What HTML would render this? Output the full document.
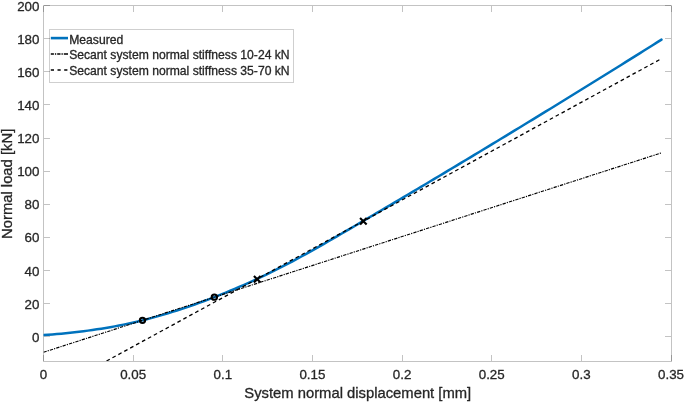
<!DOCTYPE html>
<html><head><meta charset="utf-8"><title>chart</title>
<style>
html,body{margin:0;padding:0;background:#fff;}
body{width:685px;height:403px;overflow:hidden;}
svg{display:block;will-change:transform;}
text{font-family:"Liberation Sans",sans-serif;fill:#262626;stroke:#262626;stroke-width:0.3px;}
.t{font-size:13.33px;}
.l{font-size:14.8px;}
.g{font-size:12.15px;}
</style></head><body>
<svg width="685" height="403" viewBox="0 0 685 403">
<rect x="0" y="0" width="685" height="403" fill="#ffffff"/>
<g stroke="#262626" stroke-opacity="0.28" stroke-width="1" fill="none" shape-rendering="crispEdges">
<rect x="43.5" y="5.5" width="627.5" height="355.5"/>
<line x1="43.50" y1="360.5" x2="43.50" y2="355.0"/>
<line x1="43.50" y1="6.0" x2="43.50" y2="11.5"/>
<line x1="133.14" y1="360.5" x2="133.14" y2="355.0"/>
<line x1="133.14" y1="6.0" x2="133.14" y2="11.5"/>
<line x1="222.79" y1="360.5" x2="222.79" y2="355.0"/>
<line x1="222.79" y1="6.0" x2="222.79" y2="11.5"/>
<line x1="312.43" y1="360.5" x2="312.43" y2="355.0"/>
<line x1="312.43" y1="6.0" x2="312.43" y2="11.5"/>
<line x1="402.07" y1="360.5" x2="402.07" y2="355.0"/>
<line x1="402.07" y1="6.0" x2="402.07" y2="11.5"/>
<line x1="491.71" y1="360.5" x2="491.71" y2="355.0"/>
<line x1="491.71" y1="6.0" x2="491.71" y2="11.5"/>
<line x1="581.36" y1="360.5" x2="581.36" y2="355.0"/>
<line x1="581.36" y1="6.0" x2="581.36" y2="11.5"/>
<line x1="671.00" y1="360.5" x2="671.00" y2="355.0"/>
<line x1="671.00" y1="6.0" x2="671.00" y2="11.5"/>
<line x1="44.0" y1="336.90" x2="49.5" y2="336.90"/>
<line x1="670.5" y1="336.90" x2="665.0" y2="336.90"/>
<line x1="44.0" y1="303.76" x2="49.5" y2="303.76"/>
<line x1="670.5" y1="303.76" x2="665.0" y2="303.76"/>
<line x1="44.0" y1="270.62" x2="49.5" y2="270.62"/>
<line x1="670.5" y1="270.62" x2="665.0" y2="270.62"/>
<line x1="44.0" y1="237.48" x2="49.5" y2="237.48"/>
<line x1="670.5" y1="237.48" x2="665.0" y2="237.48"/>
<line x1="44.0" y1="204.34" x2="49.5" y2="204.34"/>
<line x1="670.5" y1="204.34" x2="665.0" y2="204.34"/>
<line x1="44.0" y1="171.20" x2="49.5" y2="171.20"/>
<line x1="670.5" y1="171.20" x2="665.0" y2="171.20"/>
<line x1="44.0" y1="138.06" x2="49.5" y2="138.06"/>
<line x1="670.5" y1="138.06" x2="665.0" y2="138.06"/>
<line x1="44.0" y1="104.92" x2="49.5" y2="104.92"/>
<line x1="670.5" y1="104.92" x2="665.0" y2="104.92"/>
<line x1="44.0" y1="71.78" x2="49.5" y2="71.78"/>
<line x1="670.5" y1="71.78" x2="665.0" y2="71.78"/>
<line x1="44.0" y1="38.64" x2="49.5" y2="38.64"/>
<line x1="670.5" y1="38.64" x2="665.0" y2="38.64"/>
<line x1="44.0" y1="5.50" x2="49.5" y2="5.50"/>
<line x1="670.5" y1="5.50" x2="665.0" y2="5.50"/>
</g>
<text class="t" x="43.50" y="379.3" text-anchor="middle">0</text>
<text class="t" x="133.14" y="379.3" text-anchor="middle">0.05</text>
<text class="t" x="222.79" y="379.3" text-anchor="middle">0.1</text>
<text class="t" x="312.43" y="379.3" text-anchor="middle">0.15</text>
<text class="t" x="402.07" y="379.3" text-anchor="middle">0.2</text>
<text class="t" x="491.71" y="379.3" text-anchor="middle">0.25</text>
<text class="t" x="581.36" y="379.3" text-anchor="middle">0.3</text>
<text class="t" x="671.00" y="379.3" text-anchor="middle">0.35</text>
<text class="t" x="39.4" y="341.90" text-anchor="end">0</text>
<text class="t" x="39.4" y="308.76" text-anchor="end">20</text>
<text class="t" x="39.4" y="275.62" text-anchor="end">40</text>
<text class="t" x="39.4" y="242.48" text-anchor="end">60</text>
<text class="t" x="39.4" y="209.34" text-anchor="end">80</text>
<text class="t" x="39.4" y="176.20" text-anchor="end">100</text>
<text class="t" x="39.4" y="143.06" text-anchor="end">120</text>
<text class="t" x="39.4" y="109.92" text-anchor="end">140</text>
<text class="t" x="39.4" y="76.78" text-anchor="end">160</text>
<text class="t" x="39.4" y="43.64" text-anchor="end">180</text>
<text class="t" x="39.4" y="10.50" text-anchor="end">200</text>
<text class="l" x="357.75" y="398.4" text-anchor="middle">System normal displacement [mm]</text>
<text class="l" transform="translate(11.9,183.85) rotate(-90)" text-anchor="middle">Normal load [kN]</text>
<clipPath id="c"><rect x="43.5" y="5.5" width="627.5" height="355.5"/></clipPath>
<g clip-path="url(#c)" fill="none">
<path d="M43.50,335.08 L47.95,334.76 L52.39,334.41 L56.84,334.04 L61.28,333.64 L65.73,333.22 L70.18,332.76 L74.62,332.28 L79.07,331.76 L83.51,331.21 L87.96,330.63 L92.41,330.02 L96.85,329.36 L101.30,328.67 L105.74,327.95 L110.19,327.18 L114.64,326.37 L119.08,325.52 L123.53,324.63 L127.97,323.70 L132.42,322.72 L136.87,321.69 L141.31,320.62 L145.76,319.50 L150.20,318.34 L154.65,317.13 L159.10,315.89 L163.54,314.61 L167.99,313.28 L172.43,311.92 L176.88,310.51 L181.33,309.07 L185.77,307.58 L190.22,306.06 L194.66,304.50 L199.11,302.90 L203.56,301.27 L208.00,299.59 L212.45,297.88 L216.90,296.13 L221.34,294.36 L225.79,292.55 L230.23,290.72 L234.68,288.86 L239.13,286.96 L243.57,285.04 L248.02,283.07 L252.46,281.08 L256.91,279.04 L261.36,276.97 L265.80,274.85 L270.25,272.68 L274.69,270.48 L279.14,268.23 L283.59,265.95 L288.03,263.63 L292.48,261.28 L296.92,258.89 L301.37,256.48 L305.82,254.04 L310.26,251.57 L314.71,249.08 L319.15,246.57 L323.60,244.04 L328.05,241.50 L332.49,238.93 L336.94,236.36 L341.38,233.77 L345.83,231.18 L350.28,228.58 L354.72,225.97 L359.17,223.36 L363.61,220.75 L368.06,218.14 L372.51,215.53 L376.95,212.91 L381.40,210.29 L385.84,207.67 L390.29,205.05 L394.74,202.42 L399.18,199.79 L403.63,197.16 L408.07,194.52 L412.52,191.88 L416.97,189.24 L421.41,186.60 L425.86,183.95 L430.30,181.30 L434.75,178.65 L439.20,175.99 L443.64,173.33 L448.09,170.67 L452.53,168.01 L456.98,165.34 L461.43,162.67 L465.87,160.00 L470.32,157.33 L474.76,154.65 L479.21,151.97 L483.66,149.28 L488.10,146.60 L492.55,143.91 L496.99,141.22 L501.44,138.52 L505.89,135.83 L510.33,133.13 L514.78,130.42 L519.22,127.72 L523.67,125.01 L528.12,122.30 L532.56,119.58 L537.01,116.87 L541.46,114.15 L545.90,111.42 L550.35,108.70 L554.79,105.97 L559.24,103.24 L563.69,100.50 L568.13,97.77 L572.58,95.03 L577.02,92.29 L581.47,89.54 L585.92,86.79 L590.36,84.04 L594.81,81.29 L599.25,78.53 L603.70,75.77 L608.15,73.01 L612.59,70.24 L617.04,67.47 L621.48,64.70 L625.93,61.93 L630.38,59.15 L634.82,56.37 L639.27,53.59 L643.71,50.80 L648.16,48.02 L652.61,45.23 L657.05,42.43 L661.50,39.63" stroke="#0072BD" stroke-width="2.5" stroke-linecap="round" stroke-linejoin="round"/>
<line x1="43.50" y1="352.26" x2="662.04" y2="152.68" stroke="#000" stroke-width="1.15" stroke-dasharray="3.3 1.1 1.2 1.1"/>
<line x2="106.53" y2="361.00" x1="662.04" y1="58.34" stroke="#000" stroke-width="1.3" stroke-dasharray="3.7 3.03" stroke-dashoffset="3.7"/>
<circle cx="142.47" cy="320.33" r="2.65" stroke="#000" stroke-width="2.1"/>
<circle cx="214.36" cy="297.13" r="2.65" stroke="#000" stroke-width="2.1"/>
<path d="M253.91,275.90 L260.51,282.50 M253.91,282.50 L260.51,275.90" stroke="#000" stroke-width="2.1"/>
<path d="M360.05,217.91 L366.65,224.51 M360.05,224.51 L366.65,217.91" stroke="#000" stroke-width="2.1"/>
</g>
<rect x="49.5" y="29.5" width="244.0" height="53.0" fill="#fff" stroke="#262626" stroke-opacity="0.22" stroke-width="1" shape-rendering="crispEdges"/>
<line x1="50.8" y1="38.1" x2="68" y2="38.1" stroke="#0072BD" stroke-width="2.6"/>
<line x1="50.8" y1="54.0" x2="68" y2="54.0" stroke="#000" stroke-width="1.35" stroke-dasharray="3.1 1.0 1.3 1.0 3.3 1.0 1.3 1.0 4.2 9"/>
<line x1="50.8" y1="70.0" x2="68" y2="70.0" stroke="#000" stroke-width="1.4" stroke-dasharray="3.2 3.5"/>
<text class="g" x="69.2" y="43.5">Measured</text>
<text class="g" x="69.2" y="59.4">Secant system normal stiffness 10-24 kN</text>
<text class="g" x="69.2" y="75.3">Secant system normal stiffness 35-70 kN</text>
</svg></body></html>
